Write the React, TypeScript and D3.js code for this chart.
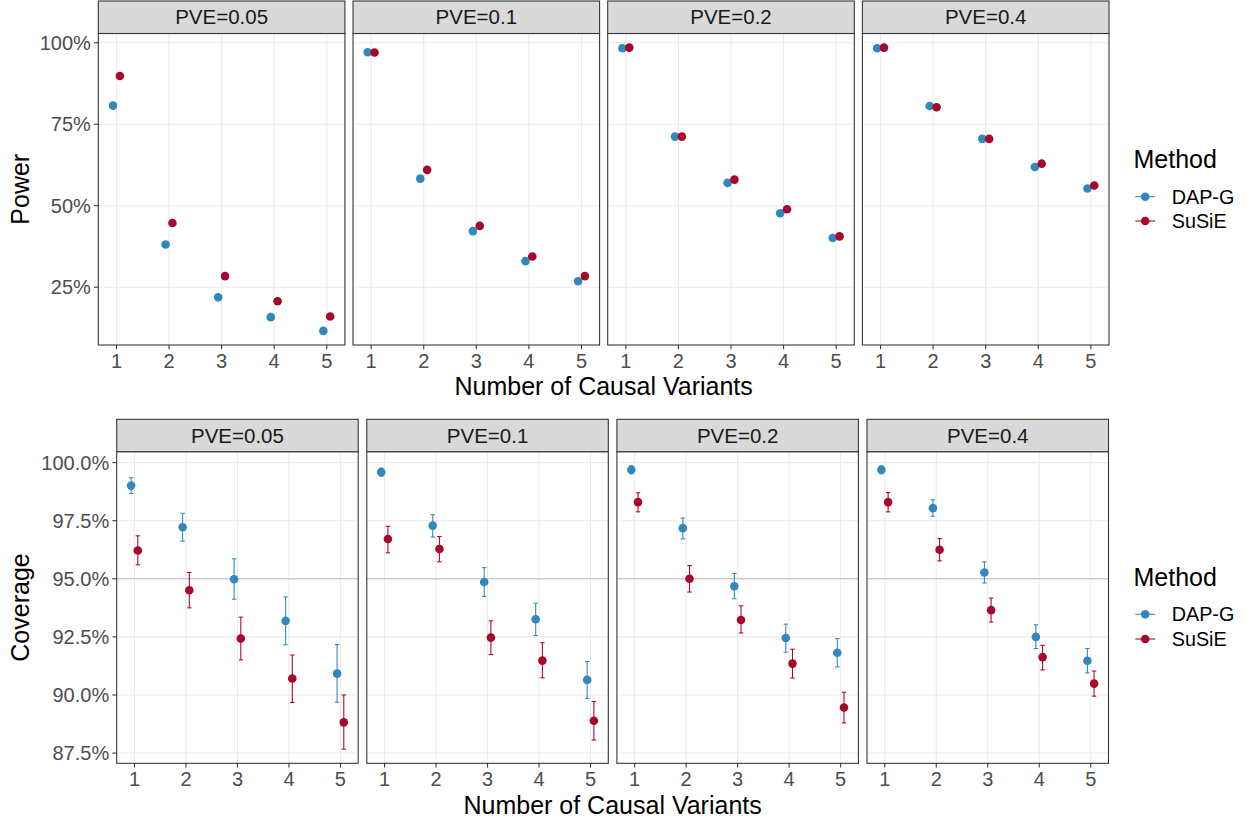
import React from "react";
import * as d3 from "d3";

// ---------- data ----------
const nCausal = [1, 2, 3, 4, 5];
const pveLabels = ["PVE=0.05", "PVE=0.1", "PVE=0.2", "PVE=0.4"];
const methods = ["DAP-G", "SuSiE"];

// Power (%) by PVE (rows) and number of causal variants (cols)
const powerDAPG = [
  [80.7, 38.1, 21.9, 15.8, 11.6],
  [97.1, 58.3, 42.2, 33.0, 26.8],
  [98.3, 71.2, 57.0, 47.7, 40.1],
  [98.3, 80.6, 70.5, 61.9, 55.3],
];
const powerSuSiE = [
  [89.8, 44.7, 28.4, 20.7, 16.0],
  [97.0, 61.0, 43.8, 34.4, 28.4],
  [98.5, 71.2, 58.0, 48.9, 40.6],
  [98.5, 80.2, 70.5, 62.9, 56.2],
];

// Coverage (%) mean, lower, upper
const covDAPG = [
  [99.01, 97.22, 94.98, 93.19, 90.92],
  [99.59, 97.29, 94.86, 93.26, 90.65],
  [99.69, 97.18, 94.68, 92.45, 91.82],
  [99.69, 98.04, 95.27, 92.5, 91.47],
];
const covDAPGLower = [
  [98.67, 96.62, 94.12, 92.16, 89.69],
  [99.42, 96.8, 94.24, 92.56, 89.85],
  [99.52, 96.72, 94.14, 91.84, 91.21],
  [99.52, 97.69, 94.82, 92.0, 90.95],
];
const covDAPGUpper = [
  [99.35, 97.82, 95.86, 94.22, 92.17],
  [99.76, 97.76, 95.48, 93.95, 91.44],
  [99.86, 97.62, 95.23, 93.05, 92.43],
  [99.86, 98.4, 95.73, 93.02, 92.0],
];
const covSuSiE = [
  [96.22, 94.51, 92.43, 90.71, 88.82],
  [96.71, 96.28, 92.47, 91.48, 88.89],
  [98.3, 95.0, 93.23, 91.35, 89.46],
  [98.3, 96.25, 93.65, 91.63, 90.49],
];
const covSuSiELower = [
  [95.6, 93.75, 91.51, 89.68, 87.67],
  [96.12, 95.73, 91.74, 90.74, 88.06],
  [97.88, 94.43, 92.67, 90.73, 88.8],
  [97.88, 95.77, 93.14, 91.08, 89.95],
];
const covSuSiEUpper = [
  [96.85, 95.27, 93.35, 91.72, 90.0],
  [97.26, 96.82, 93.19, 92.25, 89.72],
  [98.7, 95.57, 93.84, 91.97, 90.12],
  [98.71, 96.73, 94.17, 92.14, 91.03],
];

const powerTicks = [25, 50, 75, 100];
const coverageTicks = [87.5, 90, 92.5, 95, 97.5, 100];
const coverageTarget = 95;

// ---------- styles ----------
const COLORS = ["#3288BD", "#A8072C"];
const FONT = "'Liberation Sans', Arial, Helvetica, sans-serif";
const W = 1247;
const H = 821;
const DODGE = 0.065;
const X_DOMAIN: [number, number] = [0.655, 5.345];

type RowLayout = {
  left0: number;
  pitch: number;
  width: number;
  stripTop: number;
  stripBottom: number;
  bottom: number;
};

const topLayout: RowLayout = { left0: 98.3, pitch: 254.7, width: 246.6, stripTop: 1, stripBottom: 33.5, bottom: 345 };
const botLayout: RowLayout = { left0: 116.7, pitch: 250.1, width: 241.5, stripTop: 419.3, stripBottom: 451.7, bottom: 763.3 };

function padded(vals: number[]): [number, number] {
  const [mn, mx] = d3.extent(vals) as [number, number];
  const p = (mx - mn) * 0.05;
  return [mn - p, mx + p];
}

type Series = { mean: number[][]; lo?: number[][]; hi?: number[][] };

function Row(props: {
  layout: RowLayout;
  series: Series[];
  ticks: number[];
  fmt: (v: number) => string;
  hline?: number;
  yTitle: string;
  xTitleY: number;
  xTickY: number;
}) {
  const { layout, series, ticks, fmt, hline, yTitle, xTitleY, xTickY } = props;
  const allVals: number[] = [];
  series.forEach((s) => {
    (s.lo || s.mean).forEach((r) => allVals.push(...r));
    (s.hi || s.mean).forEach((r) => allVals.push(...r));
  });
  const y = d3.scaleLinear().domain(padded(allVals)).range([layout.bottom, layout.stripBottom]);
  const firstLeft = layout.left0;
  const lastRight = layout.left0 + layout.pitch * 3 + layout.width;
  return (
    <g>
      {pveLabels.map((lab, pi) => {
        const x0 = layout.left0 + pi * layout.pitch;
        const x = d3.scaleLinear().domain(X_DOMAIN).range([x0, x0 + layout.width]);
        return (
          <g key={lab}>
            <rect x={x0} y={layout.stripBottom} width={layout.width} height={layout.bottom - layout.stripBottom} fill="#fff" />
            {ticks.map((t) => (
              <line key={"gy" + t} x1={x0} x2={x0 + layout.width} y1={y(t)} y2={y(t)} stroke="#EBEBEB" strokeWidth={1.07} />
            ))}
            {nCausal.map((n) => (
              <line key={"gx" + n} x1={x(n)} x2={x(n)} y1={layout.stripBottom} y2={layout.bottom} stroke="#EBEBEB" strokeWidth={1.07} />
            ))}
            {hline !== undefined && (
              <line x1={x0} x2={x0 + layout.width} y1={y(hline)} y2={y(hline)} stroke="#BEBEBE" strokeWidth={1.07} />
            )}
            {series.map((s, mi) =>
              s.lo && s.hi
                ? nCausal.map((n, ni) => {
                    const cx = x(n + (mi === 0 ? -DODGE : DODGE));
                    const y1 = y(s.lo![pi][ni]);
                    const y2 = y(s.hi![pi][ni]);
                    return (
                      <g key={"e" + mi + n} stroke={COLORS[mi]} strokeWidth={1.07}>
                        <line x1={cx} x2={cx} y1={y1} y2={y2} />
                        <line x1={cx - 2.2} x2={cx + 2.2} y1={y1} y2={y1} />
                        <line x1={cx - 2.2} x2={cx + 2.2} y1={y2} y2={y2} />
                      </g>
                    );
                  })
                : null
            )}
            {series.map((s, mi) =>
              nCausal.map((n, ni) => (
                <circle
                  key={"p" + mi + n}
                  cx={x(n + (mi === 0 ? -DODGE : DODGE))}
                  cy={y(s.mean[pi][ni])}
                  r={4.3}
                  fill={COLORS[mi]}
                />
              ))
            )}
            <rect x={x0} y={layout.stripBottom} width={layout.width} height={layout.bottom - layout.stripBottom} fill="none" stroke="#333333" strokeWidth={1.07} />
            <rect x={x0} y={layout.stripTop} width={layout.width} height={layout.stripBottom - layout.stripTop} fill="#D9D9D9" stroke="#333333" strokeWidth={1.07} />
            <text x={x0 + layout.width / 2} y={(layout.stripTop + layout.stripBottom) / 2} dy="0.35em" textAnchor="middle" fontSize={20.5} fill="#1A1A1A">
              {lab}
            </text>
            {nCausal.map((n) => (
              <g key={"xt" + n}>
                <line x1={x(n)} x2={x(n)} y1={layout.bottom} y2={layout.bottom + 4.3} stroke="#333333" strokeWidth={1.07} />
                <text x={x(n)} y={xTickY} textAnchor="middle" fontSize={20} fill="#4D4D4D">
                  {n}
                </text>
              </g>
            ))}
          </g>
        );
      })}
      {ticks.map((t) => (
        <g key={"yt" + t}>
          <line x1={firstLeft - 4.3} x2={firstLeft} y1={y(t)} y2={y(t)} stroke="#333333" strokeWidth={1.07} />
          <text x={firstLeft - 7.5} y={y(t)} dy="0.36em" textAnchor="end" fontSize={20} fill="#4D4D4D">
            {fmt(t)}
          </text>
        </g>
      ))}
      <text
        transform={`translate(28.5, ${(layout.stripBottom + layout.bottom) / 2}) rotate(-90)`}
        textAnchor="middle"
        fontSize={25}
        fill="#000"
      >
        {yTitle}
      </text>
      <text x={(firstLeft + lastRight) / 2} y={xTitleY} textAnchor="middle" fontSize={25} fill="#000">
        Number of Causal Variants
      </text>
    </g>
  );
}

function Legend(props: { titleY: number; keyY: number[] }) {
  const { titleY, keyY } = props;
  return (
    <g>
      <text x={1133.5} y={titleY} fontSize={25} fill="#000">
        Method
      </text>
      {methods.map((m, i) => (
        <g key={m}>
          <line x1={1135.3} x2={1155} y1={keyY[i]} y2={keyY[i]} stroke={COLORS[i]} strokeWidth={1.07} />
          <circle cx={1145.2} cy={keyY[i]} r={4.3} fill={COLORS[i]} />
          <text x={1171.7} y={keyY[i]} dy="0.36em" fontSize={19.8} fill="#000">
            {m}
          </text>
        </g>
      ))}
    </g>
  );
}

export default function App() {
  const powerSeries: Series[] = [{ mean: powerDAPG }, { mean: powerSuSiE }];
  const covSeries: Series[] = [
    { mean: covDAPG, lo: covDAPGLower, hi: covDAPGUpper },
    { mean: covSuSiE, lo: covSuSiELower, hi: covSuSiEUpper },
  ];
  return (
    <div style={{ position: "absolute", left: 0, top: 0 }}>
      <svg width={W} height={H} style={{ display: "block", fontFamily: FONT }}>
        <rect width={W} height={H} fill="#fff" />
        <Row
          layout={topLayout}
          series={powerSeries}
          ticks={powerTicks}
          fmt={(v) => `${v}%`}
          yTitle="Power"
          xTickY={367.5}
          xTitleY={394.5}
        />
        <Legend titleY={167.5} keyY={[196.7, 221]} />
        <Row
          layout={botLayout}
          series={covSeries}
          ticks={coverageTicks}
          fmt={(v) => `${v.toFixed(1)}%`}
          hline={coverageTarget}
          yTitle="Coverage"
          xTickY={786}
          xTitleY={813.5}
        />
        <Legend titleY={586.3} keyY={[614.3, 639]} />
      </svg>
    </div>
  );
}
